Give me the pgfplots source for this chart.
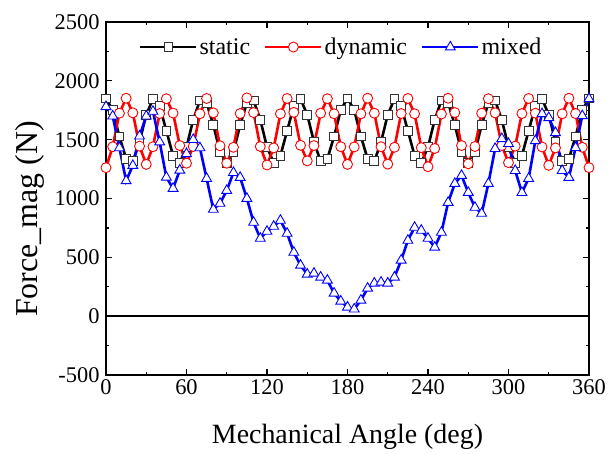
\documentclass[border=0pt]{standalone}
\usepackage{pgfplots}
\pgfplotsset{compat=1.18}
\usepackage{fontspec}
\setmainfont{Liberation Serif}
\pgfplotstableread{
x static dynamic mixed
0 1850 1262 1780
5 1752 1440 1700
10 1527 1725 1430
15 1337 1852 1150
20 1316 1728 1280
25 1481 1445 1530
30 1712 1290 1700
35 1846 1440 1740
40 1786 1722 1480
45 1575 1848 1180
50 1364 1726 1085
55 1304 1450 1240
60 1437 1300 1380
65 1669 1442 1500
70 1834 1720 1430
75 1813 1850 1170
80 1623 1728 907
85 1398 1448 958
90 1300 1300 1068
95 1398 1435 1220
100 1623 1722 1178
105 1813 1855 1000
110 1834 1730 797
115 1669 1442 661
120 1437 1285 720
125 1304 1430 763
130 1364 1720 814
135 1575 1850 703
140 1786 1732 542
145 1846 1452 432
150 1712 1320 356
155 1481 1450 364
160 1316 1725 331
165 1337 1848 305
170 1527 1720 195
175 1752 1440 127
180 1850 1290 76
185 1752 1438 60
190 1527 1720 135
195 1337 1852 237
200 1316 1725 280
205 1481 1440 288
210 1712 1292 280
215 1846 1435 331
220 1786 1722 475
225 1575 1850 644
230 1364 1720 754
235 1304 1432 729
240 1437 1270 661
245 1669 1425 585
250 1834 1718 712
255 1813 1852 966
260 1623 1730 1127
265 1398 1450 1195
270 1300 1295 1051
275 1398 1442 924
280 1623 1725 873
285 1813 1848 1127
290 1834 1728 1424
295 1669 1450 1508
300 1437 1305 1466
305 1304 1445 1237
310 1364 1722 1050
315 1575 1850 1170
320 1786 1725 1490
325 1846 1438 1720
330 1712 1282 1686
335 1481 1430 1559
340 1316 1720 1237
345 1337 1852 1178
350 1527 1722 1432
355 1752 1435 1703
360 1850 1262 1847
}\datatable
\begin{document}
\begin{tikzpicture}
\useasboundingbox (-106bp,-79bp) rectangle (506bp,375bp);
\begin{axis}[
  at={(0,0)}, anchor=south west,
  scale only axis, width=483bp, height=353bp,
  xmin=0, xmax=360, ymin=-500, ymax=2500,
  xtick={0,60,120,180,240,300,360},
  xticklabels={0,60,120,180,240,300,360},
  minor xtick={30,90,150,210,270,330},
  ytick={-500,0,500,1000,1500,2000,2500},
  yticklabels={-500,0,500,1000,1500,2000,2500},
  minor ytick={-250,250,750,1250,1750,2250},
  tick align=inside,
  major tick length=6bp, minor tick length=3.5bp,
  axis line style={line width=1.6bp},
  every tick/.style={black, line width=1.2bp},
  tick label style={font=\fontsize{22.5}{22.5}\selectfont},
  yticklabel style={xshift=-3bp},
  xticklabel style={yshift=-1bp},
  xlabel={Mechanical Angle (deg)},
  ylabel={Force\_mag (N)},
  label style={font=\fontsize{28}{28}\selectfont},
  xlabel style={at={(axis description cs:0.5,-0.176)}, anchor=center},
  ylabel style={at={(axis description cs:-0.157,0.442)}, anchor=center, font=\fontsize{32}{32}\selectfont},
  legend style={at={(axis description cs:0.487,0.929)}, anchor=center,
    draw=none, fill=none, legend columns=3,
    font=\fontsize{24}{24}\selectfont,
    /tikz/every even column/.append style={column sep=12bp}},
  legend image code/.code={\draw[mark repeat=2,mark phase=2,#1] plot coordinates {(0bp,0bp) (28bp,0bp) (56bp,0bp)};},
]
\addplot[black, line width=1.6bp, forget plot] coordinates {(0,0) (360,0)};
\addplot[black, line width=2.6bp, mark=square*, mark size=4.4bp, mark options={fill=white, draw=black!80, line width=0.9bp, solid}] table[x=x, y=static] {\datatable};
\addlegendentry{static}
\addplot[red, line width=2.6bp, mark=*, mark size=5bp, mark options={fill=white, draw=red, line width=0.9bp, solid}] table[x=x, y=dynamic] {\datatable};
\addlegendentry{dynamic}
\addplot[blue, line width=2.6bp, mark=triangle*, mark size=5.7bp, mark options={fill=white, draw=blue, line width=0.9bp, solid}] table[x=x, y=mixed] {\datatable};
\addlegendentry{mixed}
\end{axis}
\end{tikzpicture}
\end{document}
